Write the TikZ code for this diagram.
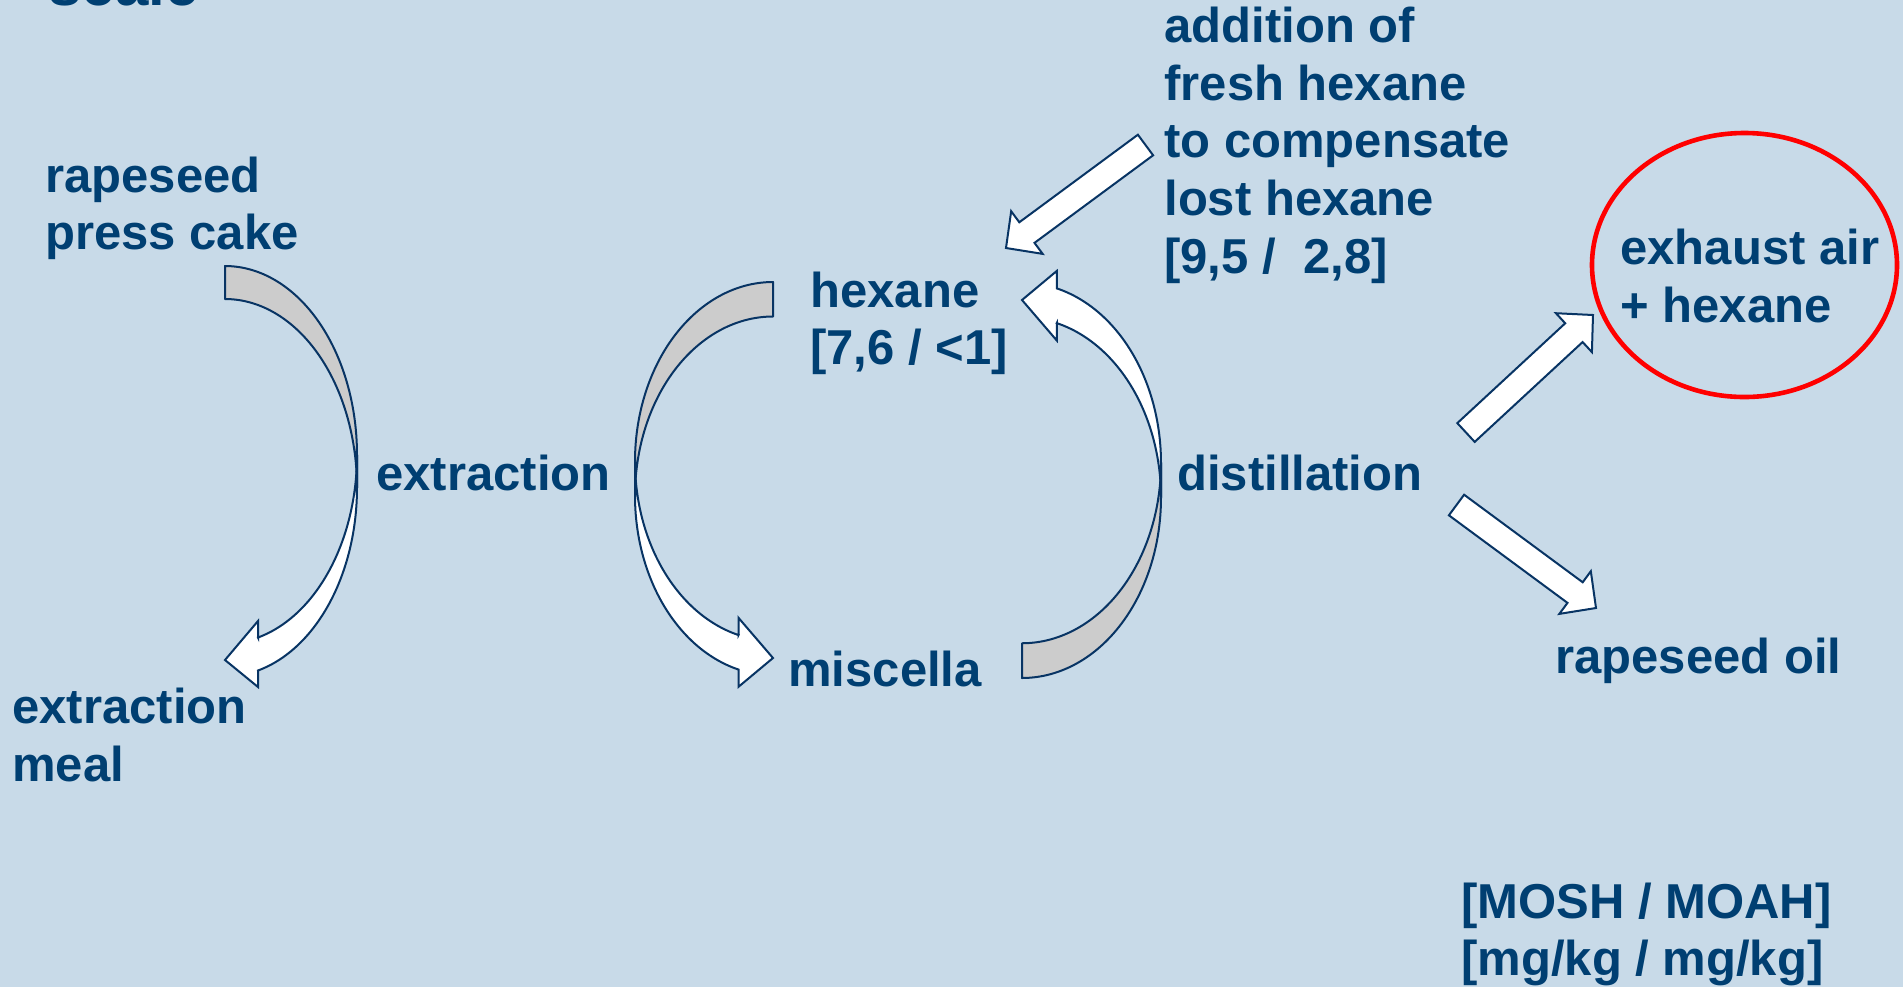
\documentclass[tikz,border=0pt]{standalone}
\usepackage{fontspec}
\setmainfont{Liberation Sans}
\usetikzlibrary{calc}

\definecolor{bgblue}{RGB}{200,218,232}
\definecolor{inkblue}{RGB}{0,63,114}
\definecolor{edgeblue}{RGB}{8,52,100}
\definecolor{backgray}{RGB}{204,204,204}

% Labels are placed by the baseline of their last line.
\tikzset{
  lbl/.style={text=inkblue, inner sep=0pt, anchor=base west, align=left,
    font=\fontsize{24.5pt}{28.8pt}\selectfont\bfseries},
  block/.style={draw=edgeblue, line width=1pt, fill=white, line join=miter},
  band back/.style={draw=edgeblue, line width=1pt, fill=backgray, line join=round},
  band front/.style={draw=edgeblue, line width=1pt, fill=white, line join=miter},
}

% Curved block arrow in a local frame (y pointing down): the flat tail end
% sits on x=0 at the top, the band bulges out to x=#2, and the head at the
% bottom points back towards x=0.  #1 = placement/flip options, #3 = height.
\newcommand\curvedband[3]{%
  \begin{scope}[#1]
    \pgfmathsetmacro\cbW{#2}
    \pgfmathsetmacro\cbH{#3}
    \pgfmathsetmacro\cbTh{0.25*\cbW}
    \pgfmathsetmacro\cbAw{0.5*\cbW}
    \pgfmathsetmacro\cbAh{0.25*\cbW}
    \pgfmathsetmacro\cbR{\cbH/2-(\cbTh+\cbAw)/4}
    \pgfmathsetmacro\cbYc{\cbR+\cbTh}
    \pgfmathsetmacro\cbDy{sqrt(1-(\cbAh/\cbW)^2)*\cbR}
    \pgfmathsetmacro\cbYin{\cbR+\cbDy}
    \pgfmathsetmacro\cbYout{\cbYc+\cbDy}
    \pgfmathsetmacro\cbDh{(\cbAw-\cbTh)/2}
    \pgfmathsetmacro\cbYbarbA{\cbYin-\cbDh}
    \pgfmathsetmacro\cbYbarbB{\cbYout+\cbDh}
    \pgfmathsetmacro\cbYtip{\cbH-\cbAw/2}
    \pgfmathsetmacro\cbAng{acos(\cbAh/\cbW)}
    % back face of the band
    \filldraw[band back]
      plot[domain=-90:0, samples=60, variable=\t] ({\cbW*cos(\t)},{\cbR+\cbR*sin(\t)})
      -- plot[domain=0:-90, samples=60, variable=\t] ({\cbW*cos(\t)},{\cbYc+\cbR*sin(\t)})
      -- cycle;
    % front face with the head
    \filldraw[band front]
      plot[domain=0:\cbAng, samples=60, variable=\t] ({\cbW*cos(\t)},{\cbYc+\cbR*sin(\t)})
      -- (\cbAh,\cbYbarbB) -- (0,\cbYtip) -- (\cbAh,\cbYbarbA) -- (\cbAh,\cbYin)
      -- plot[domain=\cbAng:0, samples=60, variable=\t] ({\cbW*cos(\t)},{\cbR+\cbR*sin(\t)})
      -- cycle;
  \end{scope}}

% Straight block arrow from the tail centre #1 to the tip #2.
\newcommand\blockarrow[2]{%
  \coordinate (neck) at ($(#2)!13pt!(#1)$);
  \draw[block] ($(#1)!6.4pt!90:(#2)$) -- ($(neck)!6.4pt!90:(#2)$)
    -- ($(neck)!13.25pt!90:(#2)$) -- (#2) -- ($(neck)!13.25pt!-90:(#2)$)
    -- ($(neck)!6.4pt!-90:(#2)$) -- ($(#1)!6.4pt!-90:(#2)$) -- cycle;}

\begin{document}
\begin{tikzpicture}[x=0.5pt, y=-0.5pt]
  \useasboundingbox (0,0) rectangle (1903,987);
  \fill[bgblue] (0,0) rectangle (1903,987);

  % heading line running off the top edge
  \node[lbl, font=\fontsize{30pt}{34pt}\selectfont\bfseries] (heading) at (48,5) {scale};

  % process labels
  \node[lbl] (cake) at (45,249.6) {rapeseed\\press cake};
  \node[lbl] (extraction) at (376,490) {extraction};
  \node[lbl] (meal) at (12,781) {extraction\\meal};
  \node[lbl] (hexane) at (810,364.6) {hexane\\{[}7,6 / <1{]}};
  \node[lbl] (miscella) at (788,686) {miscella};
  \node[lbl] (fresh) at (1164,273)
    {addition of\\fresh hexane\\to compensate\\lost hexane\\{[}9,5 /\ \ 2,8{]}};
  \node[lbl] (distillation) at (1177,490) {distillation};
  \node[lbl] (exhaust) at (1620,322) {exhaust air\\+ hexane};
  \node[lbl] (oil) at (1555,673.5) {rapeseed oil};
  \node[lbl] (units) at (1461,975.6) {{[}MOSH / MOAH{]}\\{[}mg/kg / mg/kg{]}};

  % highlight round the exhaust air
  \draw[red, line width=2.3pt] (1744.5,265) ellipse [x radius=152.5, y radius=132];

  % curved flows: press cake -> meal, solvent -> miscella, miscella -> hexane
  \curvedband{shift={(225,266)}}{132}{427}
  \curvedband{shift={(773,282)}, xscale=-1}{138}{410.5}
  \curvedband{shift={(1022,678)}, yscale=-1}{139}{412.75}

  % straight flows
  \coordinate (freshTail) at (1145.5,145);
  \coordinate (freshTip) at (1006,248);
  \coordinate (airTail) at (1466,432.5);
  \coordinate (airTip) at (1593,315);
  \coordinate (oilTail) at (1456.5,505);
  \coordinate (oilTip) at (1596,608);
  \blockarrow{freshTail}{freshTip}
  \blockarrow{airTail}{airTip}
  \blockarrow{oilTail}{oilTip}
\end{tikzpicture}
\end{document}
